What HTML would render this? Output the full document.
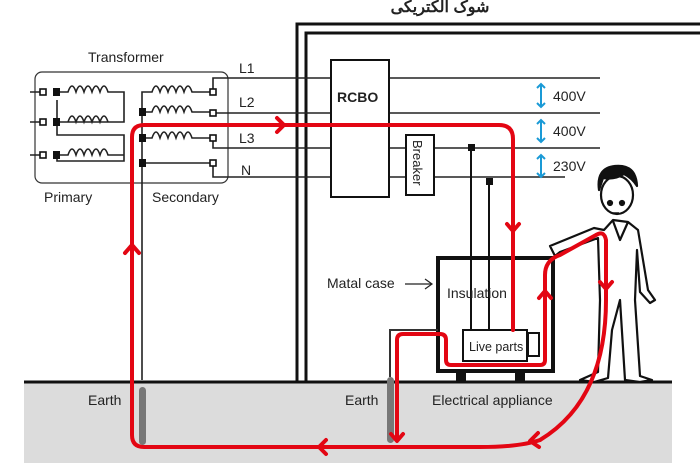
<!DOCTYPE html>
<html><head><meta charset="utf-8"><style>
body{margin:0;background:#fff;width:700px;height:471px;overflow:hidden}
svg{display:block}
text{font-family:"Liberation Sans",sans-serif;fill:#222}
</style></head><body>
<svg width="700" height="471" viewBox="0 0 700 471">
<!-- ground -->
<rect x="24" y="382" width="648" height="81" fill="#dcdcdc"/>
<line x1="24" y1="382" x2="672" y2="382" stroke="#111" stroke-width="3"/>
<!-- title -->
<text x="440" y="12" font-size="16" font-weight="bold" text-anchor="middle" font-family="'Liberation Sans','DejaVu Sans',sans-serif">شوک الکتریکی</text>
<!-- building -->
<path d="M297 382V24H700M306 382V33H700" fill="none" stroke="#111" stroke-width="3"/>
<!-- transformer -->
<text x="88" y="62" font-size="14">Transformer</text>
<rect x="35" y="72" width="193" height="111" rx="7" fill="none" stroke="#333" stroke-width="1.2"/>
<g stroke="#222" stroke-width="1.6" fill="none">
<path d="M30 92H44M30 122H44M30 155H44"/>
<path d="M57 92H68q4-12 8 0q4-12 8 0q4-12 8 0q4-12 8 0q4-12 8 0H124V122H57V129M57 122H68q4-12 8 0q4-12 8 0q4-12 8 0q4-12 8 0q4-12 8 0H124M57 155H68q4-12 8 0q4-12 8 0q4-12 8 0q4-12 8 0q4-12 8 0H124V161H57V156M57 122V100M124 155V135H57V124"/>
<path d="M142 380V92H152q4-12 8 0q4-12 8 0q4-12 8 0q4-12 8 0q4-12 8 0H212M142 112H152q4-12 8 0q4-12 8 0q4-12 8 0q4-12 8 0q4-12 8 0H212M142 138H152q4-12 8 0q4-12 8 0q4-12 8 0q4-12 8 0q4-12 8 0H212M142 163H212"/>
<path d="M213 92V78H600M213 113H600M213 138V148H600M213 163V177H565"/>
</g>
<g fill="#fff" stroke="#111" stroke-width="1.6">
<rect x="40" y="89" width="6" height="6"/><rect x="40" y="119" width="6" height="6"/><rect x="40" y="152" width="6" height="6"/>
<rect x="210" y="89" width="6" height="6"/><rect x="210" y="110" width="6" height="6"/><rect x="210" y="135" width="6" height="6"/><rect x="210" y="160" width="6" height="6"/>
</g>
<g fill="#111"><rect x="53" y="88" width="7" height="8"/><rect x="53" y="118" width="7" height="8"/><rect x="53" y="151" width="7" height="8"/>
<rect x="139" y="108" width="7" height="8"/><rect x="139" y="134" width="7" height="8"/><rect x="139" y="159" width="7" height="8"/>
<rect x="468" y="144" width="7" height="7"/><rect x="486" y="178" width="7" height="7"/></g>
<text x="44" y="202" font-size="14">Primary</text>
<text x="152" y="202" font-size="14">Secondary</text>
<text x="239" y="73" font-size="14">L1</text>
<text x="239" y="107" font-size="14">L2</text>
<text x="239" y="143" font-size="14">L3</text>
<text x="241" y="175" font-size="14">N</text>
<!-- RCBO & breaker -->
<rect x="331" y="60" width="58" height="137" fill="#fff" stroke="#111" stroke-width="2"/>
<text x="337" y="102" font-size="14" font-weight="bold">RCBO</text>
<rect x="406" y="135" width="28" height="60" fill="#fff" stroke="#111" stroke-width="2"/>
<text x="413" y="140" font-size="13" transform="rotate(90 413 140)">Breaker</text>
<path d="M471 148V257M489 182V257" stroke="#111" stroke-width="2"/>
<!-- voltages -->
<g stroke="#1a9ad6" stroke-width="2" fill="none">
<path d="M541 84V107M537 88L541 84L545 88M537 103L541 107L545 103"/>
<path d="M541 120V142M537 124L541 120L545 124M537 138L541 142L545 138"/>
<path d="M541 155V177M537 159L541 155L545 159M537 173L541 177L545 173"/>
</g>
<text x="553" y="101" font-size="14">400V</text>
<text x="553" y="136" font-size="14">400V</text>
<text x="553" y="171" font-size="14">230V</text>
<!-- case -->
<rect x="438" y="258" width="115" height="113" fill="none" stroke="#111" stroke-width="4"/>
<path d="M471 257V330M489 257V330" stroke="#111" stroke-width="2"/>
<rect x="456" y="371" width="10" height="10" fill="#111"/><rect x="515" y="371" width="10" height="10" fill="#111"/>
<rect x="463" y="330" width="64" height="31" fill="#fff" stroke="#111" stroke-width="2"/>
<rect x="528" y="333" width="11" height="23" fill="#fff" stroke="#111" stroke-width="2"/>
<text x="469" y="351" font-size="12.5">Live parts</text>
<text x="447" y="298" font-size="14">Insulation</text>
<text x="327" y="288" font-size="14">Matal case</text>
<path d="M405 284H431M425 279L432 284L425 289" stroke="#222" fill="none" stroke-width="1.2"/>
<path d="M390 377V330H438" stroke="#333" stroke-width="2" fill="none"/>
<!-- earth rods -->
<rect x="139" y="387" width="7" height="58" rx="3.5" fill="#777"/>
<rect x="387" y="377" width="7" height="66" rx="3.5" fill="#777"/>
<text x="88" y="405" font-size="14">Earth</text>
<text x="345" y="405" font-size="14">Earth</text>
<text x="432" y="405" font-size="14">Electrical appliance</text>
<!-- person -->
<g stroke="#111" stroke-width="2.2" fill="#fff" stroke-linejoin="round">
<path d="M604 230L613 220L628 222L638 230L648 290L655 300L650 303L640 292L637 250L635 300L640 376L652 380L640 382L625 380L620 300L612 330L608 378L594 382L580 380L598 372L600 300L598 238L560 252L555 256L550 246L594 228Z"/>
<ellipse cx="617" cy="195" rx="16" ry="19"/>
<path d="M599 190Q596 168 615 166Q636 164 637 186Q632 178 624 174Q615 180 603 178Z" fill="#111"/>
<circle cx="610" cy="203" r="2" fill="#111"/><circle cx="622" cy="203" r="2" fill="#111"/>
<path d="M613 213h6" stroke-width="1.5"/>
<path d="M613 221L620 240L628 222" fill="none"/>
</g>
<!-- red current path -->
<g stroke="#e30613" stroke-width="4" fill="none" stroke-linecap="round" stroke-linejoin="round">
<path d="M132 238V137Q132 125 144 125H499Q513 125 513 139V330"/>
<path d="M132 238V435Q132 447 144 447H400"/>
<path d="M397 440V340Q397 334 403 334H440Q446 334 446 340V360Q446 365 451 365H540Q545 365 545 360V275Q545 260 560 255L596 235Q604 230 606 240V300Q606 400 540 440"/>
<path d="M400 447H480Q520 447 540 440"/>
<path d="M277 118L284 125L277 132"/>
<path d="M125 253L132 245L139 253"/>
<path d="M507 224L513 231L519 224"/>
<path d="M539 298L545 291L551 298"/>
<path d="M600 282L606 289L612 282"/>
<path d="M391 434L397 441L403 434"/>
<path d="M326 440L319 447L326 454"/>
<path d="M538 433L530 441L539 447"/>
</g>
</svg>
</body></html>
